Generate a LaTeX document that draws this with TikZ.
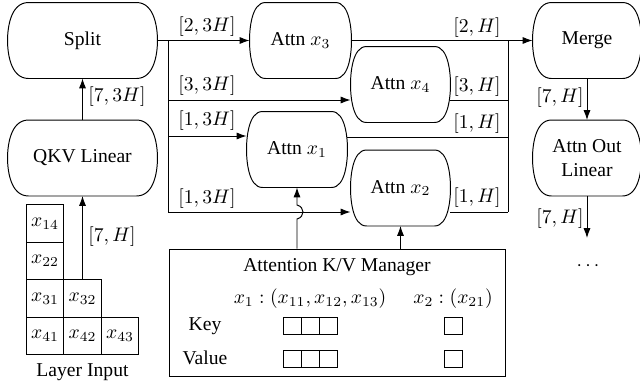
\documentclass[tikz,border=0pt]{standalone}
\usepackage[no-math]{fontspec}
\setmainfont{Liberation Serif}
\usetikzlibrary{arrows.meta,calc}
\newcommand\px{0.51pt}
% rounded block outline drawn around an (invisible) node
\newcommand\rshape[3]{%
  \draw ($(#1.north west)+(#2,0)$) -- ($(#1.north east)+(-#2,0)$)
    .. controls ($(#1.north east)+(-0.1*#2,0)$) and ($(#1.north east)+(0,#3)$) .. (#1.east)
    .. controls ($(#1.south east)+(0,-#3)$) and ($(#1.south east)+(-0.1*#2,0)$) .. ($(#1.south east)+(-#2,0)$)
    -- ($(#1.south west)+(#2,0)$)
    .. controls ($(#1.south west)+(0.1*#2,0)$) and ($(#1.south west)+(0,-#3)$) .. (#1.west)
    .. controls ($(#1.north west)+(0,#3)$) and ($(#1.north west)+(0.1*#2,0)$) .. cycle;}
\begin{document}
\begin{tikzpicture}[x=0.51pt,y=-0.51pt,line width=0.5pt,
  arr/.style={-{Latex[length=5pt,width=3.6pt]}},
  blk/.style={inner sep=0pt,minimum height=75*\px,align=center},
  cell/.style={draw,inner sep=0pt,minimum size=37.5*\px},
  kc/.style={draw,inner sep=0pt,minimum width=18*\px,minimum height=17*\px},
  lab/.style={inner sep=0pt}]
\useasboundingbox (0,0) rectangle (640,383);

% blocks
\node[blk,minimum width=149*\px] (split) at (82.5,40.5) {Split};
\node[blk,minimum width=149*\px] (qkv) at (82.5,158) {QKV Linear};
\node[blk,minimum width=101*\px] (x3) at (300.5,40.5) {Attn $x_3$};
\node[blk,minimum width=99*\px] (x4) at (400.5,84.5) {Attn $x_4$};
\node[blk,minimum width=100*\px] (x1) at (297,149.5) {Attn $x_1$};
\node[blk,minimum width=99*\px] (x2) at (400.5,188) {Attn $x_2$};
\node[blk,minimum width=108*\px] (merge) at (587,40.5) {Merge};
\node[blk,minimum width=108*\px] (aout) at (587,158) {Attn Out\\Linear};
\foreach \n/\r in {split/21,qkv/21,x3/16,x4/16,x1/16,x2/16,merge/19,aout/19}
  {\rshape{\n}{\r}{28}}

% layer input grid
\node[cell] (c14) at (45,223.5) {$x_{14}$};
\node[cell] (c22) at (45,261) {$x_{22}$};
\node[cell] (c31) at (45,298.5) {$x_{31}$};
\node[cell] (c32) at (82.5,298.5) {$x_{32}$};
\node[cell] (c41) at (45,336) {$x_{41}$};
\node[cell] (c42) at (82.5,336) {$x_{42}$};
\node[cell] (c43) at (120,336) {$x_{43}$};
\node (inp) at (82.5,372) {Layer Input};

% manager
\node[draw,inner sep=0pt,minimum width=336*\px,minimum height=127*\px] (mgr) at (337,312.5) {};
\node (mtitle) at (337,267) {Attention K/V Manager};
\node (e1) at (310,299) {$x_1:(x_{11},x_{12},x_{13})$};
\node (e2) at (453,299) {$x_2:(x_{21})$};
\node (key) at (205,326) {Key};
\node (val) at (205,358) {Value};
\node[kc] (k1) at (292,325.5) {};
\node[kc] (k2) at (310,325.5) {};
\node[kc] (k3) at (328,325.5) {};
\node[kc] (v1) at (292,358.5) {};
\node[kc] (v2) at (310,358.5) {};
\node[kc] (v3) at (328,358.5) {};
\node[kc] (k4) at (453,325.5) {};
\node[kc] (v4) at (453,358.5) {};

% dots
\node (dots) at (588,266) {$\cdots$};

% bus coordinates
\coordinate (b1) at (168,40.5);
\coordinate (b2) at (168,100);
\coordinate (b3) at (168,136);
\coordinate (b4) at (168,212);
\coordinate (o1) at (508,40.5);
\coordinate (o2) at (508,100);
\coordinate (o3) at (508,137);
\coordinate (o4) at (508,212);
\coordinate (h1) at (297,219);
\coordinate (h2) at (297,205);
\coordinate (oend) at (587,238);

% connectors
\draw[arr] (c32.north) -- (qkv.south);
\draw[arr] (qkv.north) -- (split.south);
\draw[arr] (split.east) -- (x3.west);
\draw (b1) -- (b4);
\draw[arr] (b2) -- (b2 -| x4.west);
\draw[arr] (b3) -- (b3 -| x1.west);
\draw[arr] (b4) -- (b4 -| x2.west);
\draw[arr] (x3.east) -- (merge.west);
\draw (o1) -- (o4);
\draw (o2 -| x4.east) -- (o2);
\draw (o3 -| x1.east) -- (o3);
\draw (o4 -| x2.east) -- (o4);
\draw[arr] (mgr.north -| x1.south) -- (h1)
  .. controls ($(h1)+(8,-2)$) and ($(h2)+(8,2)$) .. (h2) -- (x1.south);
\draw[arr] (mgr.north -| x2.south) -- (x2.south);
\draw[arr] (merge.south) -- (aout.north);
\draw[arr] (aout.south) -- (oend);

% labels
\node[lab] (l73h) at (117,97) {$[7,3H]$};
\node[lab] (l7h) at (112,237) {$[7,H]$};
\node[lab] (l23h) at (207,27) {$[2,3H]$};
\node[lab] (l33h) at (207,86) {$[3,3H]$};
\node[lab] (l13a) at (207,121) {$[1,3H]$};
\node[lab] (l13b) at (207,199) {$[1,3H]$};
\node[lab] (l2h) at (477,28) {$[2,H]$};
\node[lab] (l3h) at (477,87) {$[3,H]$};
\node[lab] (l1ha) at (477,124) {$[1,H]$};
\node[lab] (l1hb) at (477,198) {$[1,H]$};
\node[lab] (l7ha) at (560,98) {$[7,H]$};
\node[lab] (l7hb) at (560,219) {$[7,H]$};
\end{tikzpicture}
\end{document}
